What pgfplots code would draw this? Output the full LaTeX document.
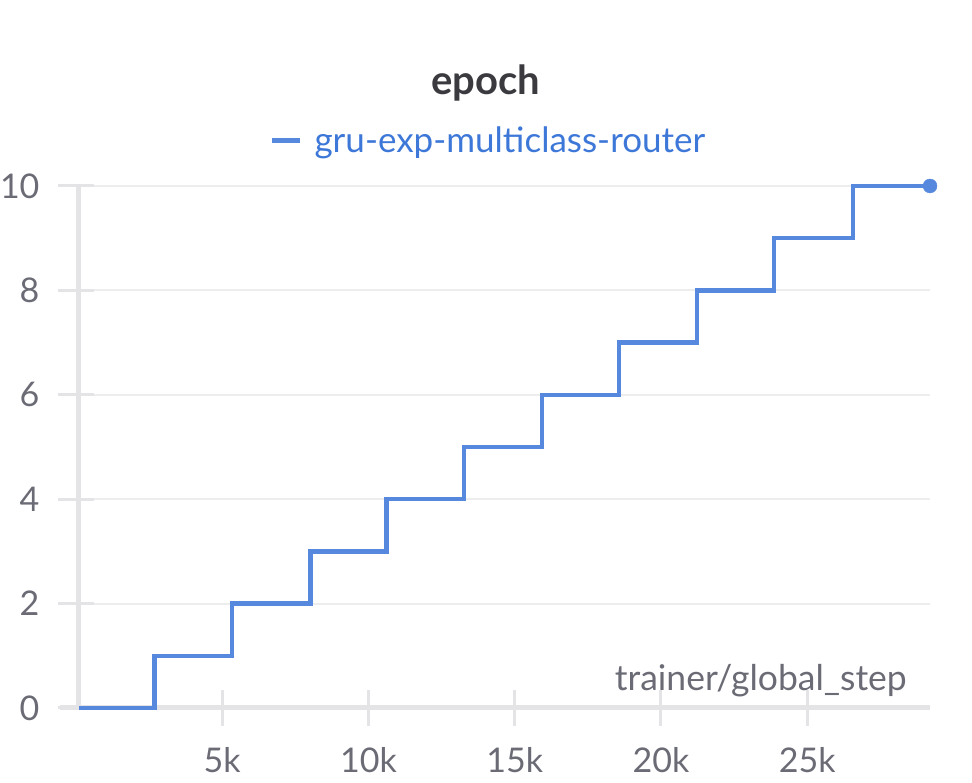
\documentclass[border=0pt]{standalone}
\usepackage{fontspec}
\setmainfont{Lato}
\usepackage{pgfplots}
\pgfplotsset{compat=1.18}

\definecolor{runblue}{HTML}{5689DE}
\definecolor{legblue}{HTML}{3D78D8}
\definecolor{tickgray}{HTML}{6B6B76}
\definecolor{titlegray}{HTML}{3A3A3F}
\definecolor{axisgray}{HTML}{E4E4E7}
\definecolor{gridgray}{HTML}{EDEDED}

\begin{document}
\begin{tikzpicture}[x=1pt,y=1pt]
\path[use as bounding box] (0,0) rectangle (972,783);
\begin{axis}[
    at={(76pt,75pt)}, anchor=south west,
    scale only axis,
    width=854pt, height=522pt,
    xmin=0, xmax=29200,
    ymin=0, ymax=10,
    clip=false,
    axis line style={draw=none},
    xtick={5000,10000,15000,20000,25000},
    xticklabels={5k,10k,15k,20k,25k},
    scaled x ticks=false,
    ytick={0,2,4,6,8,10},
    xtick pos=bottom, ytick pos=left,
    ymajorgrids,
    grid style={gridgray, line width=2pt},
    tick align=center,
    major tick length=36pt,
    tick style={axisgray, line width=3pt},
    ticklabel style={font=\fontsize{34}{40}\selectfont, text=tickgray},
    /pgf/number format/assume math mode=true,
    xticklabel style={yshift=-18pt},
    yticklabel style={xshift=-15pt},
    title=epoch,
    title style={font=\fontsize{40}{46}\selectfont\bfseries, text=titlegray,
        at={(axis description cs:0.48,1.185)}, anchor=center},
    legend style={at={(axis description cs:0.483,1.088)}, anchor=center,
        draw=none, fill=none, font=\fontsize{35}{40}\selectfont, text=legblue},
    legend image code/.code={\draw[line width=5pt, runblue] (0pt,0pt) -- (28pt,0pt);
        \path (38pt,0pt);},
]
\draw[axisgray, line width=5pt] (axis cs:-550,0) -- (axis cs:29200,0);
\draw[axisgray, line width=5pt] (axis cs:70,0) -- (axis cs:70,10);
\addplot[const plot, runblue, line width=4.5pt, line join=miter] coordinates {
    (100,0) (2680,1) (5340,2) (8010,3) (10620,4) (13270,5)
    (15940,6) (18570,7) (21240,8) (23860,9) (26560,10) (29200,10)
};
\addlegendentry{gru-exp-multiclass-router}
\addplot[only marks, mark=*, mark size=7pt, runblue, forget plot] coordinates {(29200,10)};
\node[anchor=east, font=\fontsize{35.5}{40}\selectfont, text=tickgray]
    at (axis description cs:0.977,0.053) {trainer/global\_step};
\end{axis}
\end{tikzpicture}
\end{document}
